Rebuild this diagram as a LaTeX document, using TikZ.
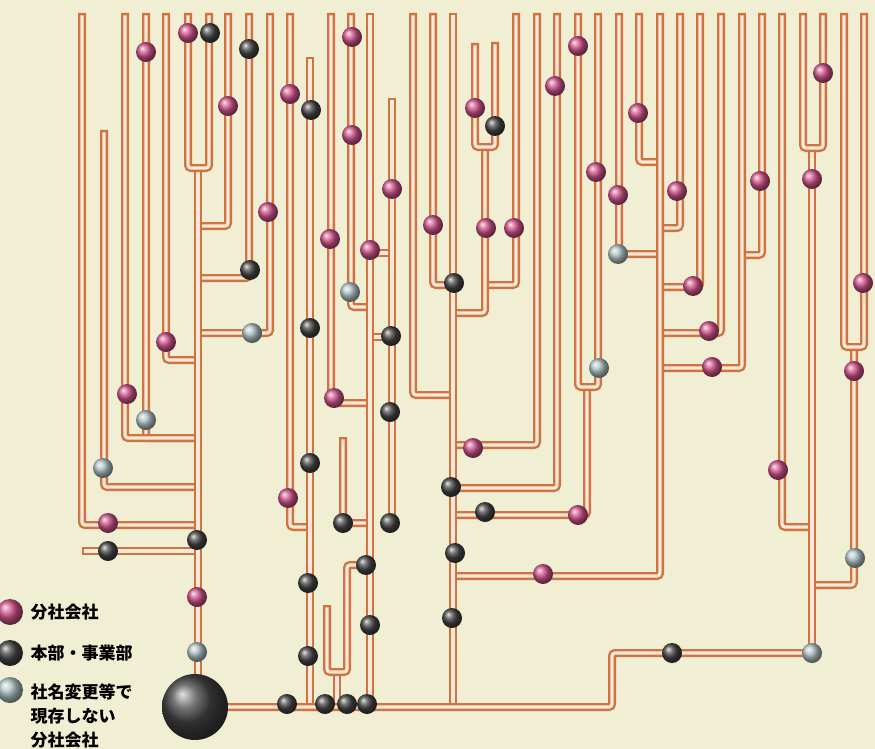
\documentclass[tikz,border=0pt]{standalone}
\usepackage{fontspec}
\newfontfamily\jpfont{Noto Sans CJK JP}
\definecolor{bgcream}{HTML}{F0EED3}
\definecolor{pipeedge}{HTML}{CF7440}
\definecolor{pipecore}{HTML}{F9E9DA}
\definecolor{rosecol}{HTML}{D0528A}
\definecolor{darkcol}{HTML}{454545}
\definecolor{palecol}{HTML}{AFC3C6}
\begin{document}
\begin{tikzpicture}[
  x=1pt, y=-1pt,
  pipe/.style={draw=pipeedge, line width=8pt, rounded corners=3pt,
    postaction={draw=pipecore, line width=3.2pt, shorten <=2.4pt, shorten >=2.4pt}},
  bead/.style={circle, inner sep=0pt, minimum size=20pt, shading=ball},
  pinkbead/.style={bead, ball color=rosecol},
  darkbead/.style={bead, ball color=darkcol},
  palebead/.style={bead, ball color=palecol},
  keytext/.style={anchor=west, align=left, text=black,
    font=\jpfont\bfseries\fontsize{17}{24}\selectfont}
]
\useasboundingbox (0,0) rectangle (875,749);
\fill[bgcream] (0,0) rectangle (875,749);
\clip (0,0) rectangle (875,749);

% --- branches dropping from the top edge, turning into their parent line ---
\foreach \x/\y/\t in {82/525/198, 146/438/198, 125/438/198, 166/360/198,
    228/226/198, 249/278/198, 270/333/198,
    290/527/310, 331/403/370, 351/307/370,
    413/395/453, 433/285/453, 516/285/485, 537/445/453, 557/488/453,
    639/162/660, 619/254/660, 680/228/660, 700/287/660, 721/333/660,
    762/255/742, 742/368/660, 782/527/812}
  \draw[pipe] (\x,13) -- (\x,\y) -- (\t,\y);

% --- left group ---
\draw[pipe] (82,551) -- (198,551);
\draw[pipe] (104,130) -- (104,487) -- (198,487);
\draw[pipe] (198,168) -- (198,707);
\draw[pipe] (188,13) -- (188,168) -- (209,168) -- (209,13);

% --- middle group ---
\draw[pipe] (310,57) -- (310,707);
\draw[pipe] (370,253) -- (392,253);
\draw[pipe] (370,337) -- (392,337);
\draw[pipe] (343,437) -- (343,523) -- (370,523);
\draw[pipe] (337,672) -- (337,707);
\draw[pipe] (327,605) -- (327,672) -- (347,672) -- (347,565) -- (370,565);
\draw[pipe] (392,98) -- (392,523);
\draw[pipe] (370,13) -- (370,707);

% --- centre trunk ---
\draw[pipe] (485,147) -- (485,313) -- (453,313);
\draw[pipe] (475,43) -- (475,147) -- (495,147) -- (495,42);
\draw[pipe] (587,387) -- (587,515) -- (453,515);
\draw[pipe] (578,13) -- (578,387) -- (598,387) -- (598,13);
\draw[pipe] (660,13) -- (660,576) -- (453,576);
\draw[pipe] (453,13) -- (453,707);

% --- right trunk ---
\draw[pipe] (854,347) -- (854,585) -- (812,585);
\draw[pipe] (844,13) -- (844,347) -- (864,347) -- (864,13);
\draw[pipe] (812,148) -- (812,653);
\draw[pipe] (803,13) -- (803,148) -- (823,148) -- (823,13);

% --- main line from the root ---
\draw[pipe] (198,707) -- (612,707) -- (612,653) -- (812,653);

% --- beads ---
\foreach \x/\y [count=\i] in {146/52, 188/33, 228/106, 290/94, 268/212, 352/37,
    352/135, 392/189, 330/239, 370/250, 166/342, 127/394, 108/523, 197/597,
    334/398, 288/498, 475/108, 578/46, 555/86, 638/113, 596/172, 618/195,
    677/191, 823/73, 760/181, 812/179, 433/225, 486/228, 514/228, 693/286,
    709/331, 712/367, 863/283, 854/371, 473/448, 578/515, 543/574, 778/470}
  \node[pinkbead] (p\i) at (\x,\y) {};
\foreach \x/\y [count=\i] in {210/33, 249/49, 311/110, 495/126, 250/270, 310/328,
    391/336, 390/412, 454/283, 310/463, 451/487, 485/512, 343/523, 390/523,
    197/540, 108/551, 455/553, 366/565, 308/583, 452/618, 370/625, 308/656,
    287/704, 325/704, 347/704, 367/704, 672/653}
  \node[darkbead] (d\i) at (\x,\y) {};
\foreach \x/\y [count=\i] in {350/292, 252/333, 618/254, 599/368, 146/420,
    103/468, 197/652, 855/558, 812/653}
  \node[palebead] (g\i) at (\x,\y) {};

\node[bead, ball color=darkcol, minimum size=66pt] (root) at (195,707) {};

% --- key ---
\node[pinkbead, minimum size=26pt] (kp) at (10,612) {};
\node[darkbead, minimum size=26pt] (kd) at (10,653) {};
\node[palebead, minimum size=26pt] (kg) at (10,690) {};
\node[keytext] (tp) at (27,612) {分社会社};
\node[keytext] (td) at (27,653) {本部・事業部};
\node[keytext] (tg) at (27,716) {社名変更等で\\現存しない\\分社会社};

\end{tikzpicture}
\end{document}
